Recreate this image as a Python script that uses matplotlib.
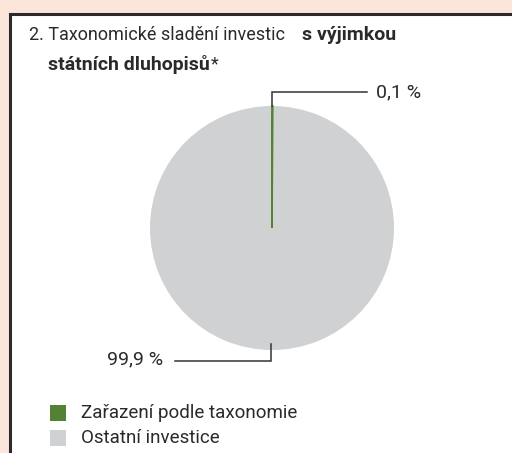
import matplotlib
matplotlib.use("Agg")
import matplotlib.pyplot as plt
from matplotlib.patches import Rectangle
import numpy as np

categories = ["Zařazení podle taxonomie", "Ostatní investice"]
values = [0.1, 99.9]
labels = ["0,1 %", "99,9 %"]
colors = ["#548235", "#d0d1d3"]

BG = "#fce5db"
TXT = "#2a2a2a"
FONT = ["Roboto", "DejaVu Sans"]

W, H = 512, 453
fig = plt.figure(figsize=(W / 100, H / 100), dpi=100, facecolor=BG)
ax = fig.add_axes([0, 0, 1, 1])

def Y(y):
    return H - y

# pie
cx, cy, r = 272, Y(228), 122
wedges, _ = ax.pie(values, colors=colors, startangle=90, counterclock=False,
                   center=(cx, cy), radius=r, frame=True,
                   wedgeprops=dict(linewidth=0))
wedges[0].set_edgecolor(colors[0])
wedges[0].set_linewidth(1.2)
wedges[0].set_zorder(3)
ax.set_xlim(0, W)
ax.set_ylim(0, H)
ax.set_aspect("auto")
ax.axis("off")

# white panel
ax.add_patch(Rectangle((10, Y(470)), 540, 456, facecolor="white",
                       edgecolor="#2b2b2b", linewidth=2.2, zorder=0))

# title
ax.text(29, Y(35), "2. Taxonomické sladění investic", fontsize=13,
        family=FONT, color=TXT, va="center", ha="left")
ax.text(302, Y(35), "s výjimkou", fontsize=14, family=FONT, color=TXT,
        va="center", ha="left", fontweight="bold")
t3 = ax.text(48, Y(64), "státních dluhopisů", fontsize=14, family=FONT,
             color=TXT, va="center", ha="left", fontweight="bold")
fig.canvas.draw()
bb3 = t3.get_window_extent()
ax.text(bb3.x1 + 1, Y(64), "*", fontsize=13, family=FONT, color=TXT,
        va="center", ha="left")

# leader lines
w0 = wedges[0]
ang0 = np.deg2rad((w0.theta1 + w0.theta2) / 2)
px, py = cx + r * np.cos(ang0), cy + r * np.sin(ang0)
ax.plot([px, px, px + 95], [py, py + 14, py + 14], color="#333333", lw=1.1,
        solid_joinstyle="miter", zorder=4)
ax.text(px + 104, py + 14, labels[0], fontsize=14, family=FONT, color=TXT,
        va="center", ha="left")

px2, py2 = cx, cy - r
ax.plot([px2 - 1, px2 - 1, px2 - 97], [py2 + 6, py2 - 11, py2 - 11],
        color="#333333", lw=1.1, solid_joinstyle="miter", zorder=4)
ax.text(px2 - 109, py2 - 9, labels[1], fontsize=14, family=FONT, color=TXT,
        va="center", ha="right")

# legend
ly = [413, 438]
for c, lab, y in zip(colors, categories, ly):
    ax.add_patch(Rectangle((50, Y(y) - 8), 16, 16, facecolor=c, edgecolor="none"))
    ax.text(81, Y(y), lab, fontsize=13.5, family=FONT, color=TXT,
            va="center", ha="left")

fig.savefig("out.png", dpi=100, facecolor=BG)
